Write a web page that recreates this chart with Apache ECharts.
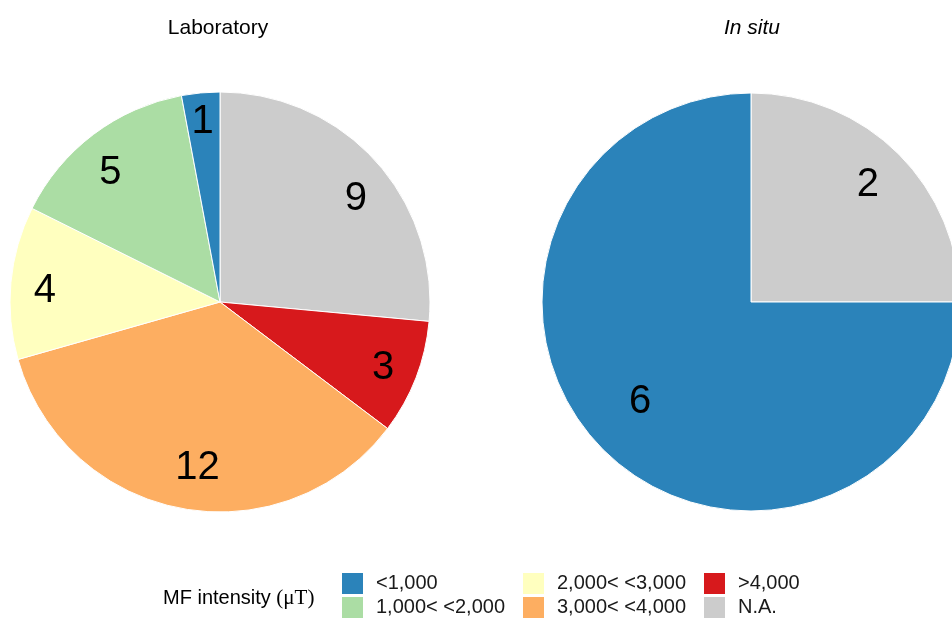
<!DOCTYPE html>
<html>
<head>
<meta charset="utf-8">
<script src="https://cdn.jsdelivr.net/npm/echarts@6/dist/echarts.min.js"></script>
<style>
  html, body { margin: 0; padding: 0; background: #ffffff; }
  #chart { width: 952px; height: 619px; }
</style>
</head>
<body>
<div id="chart"></div>
<script>
// Magnetic-field intensity classes and how many studies fall into each
const categories = ['<1,000', '1,000< <2,000', '2,000< <3,000', '3,000< <4,000', '>4,000', 'N.A.'];
const classColors = ['#2b83ba', '#abdda4', '#ffffbf', '#fdae61', '#d7191c', '#cccccc'];

// Slice order, clockwise from 12 o'clock
const labOrder = ['N.A.', '>4,000', '3,000< <4,000', '2,000< <3,000', '1,000< <2,000', '<1,000'];
const labCounts = [9, 3, 12, 4, 5, 1];

const inSituOrder = ['N.A.', '<1,000'];
const inSituCounts = [2, 6];

const panelTitles = ['Laboratory', 'In situ'];
const legendTitle = 'MF intensity ';
const legendUnit = '(\u03bcT)';

const colorOf = name => classColors[categories.indexOf(name)];
const toData = (names, values) => names.map((n, i) => ({
  name: n, value: values[i], itemStyle: { color: colorOf(n) }
}));

const FONT = '"Liberation Sans", Arial, sans-serif';

// small nudges of the count labels, per series and slice
const labelNudge = {
  1: [[5, 16], [-2, 2], [10, -8], [1, 5], [-3, 12], [-1, -4]],
  3: [[4, -4], [2, -13]]
};

function piePair(names, values, center, radius, labelRing) {
  const data = toData(names, values);
  return [
    {
      type: 'pie', center: center, radius: radius,
      startAngle: 90, clockwise: true,
      data: data,
      label: { show: false }, labelLine: { show: false },
      itemStyle: { borderColor: '#ffffff', borderWidth: 1 },
      emphasis: { disabled: true }, animation: false
    },
    {
      // transparent ring carrying the count labels
      type: 'pie', center: center, radius: labelRing,
      startAngle: 90, clockwise: true, silent: true,
      data: data.map(d => ({ name: d.name, value: d.value, itemStyle: { color: 'rgba(0,0,0,0)' } })),
      label: {
        show: true, position: 'inside', formatter: '{c}',
        fontFamily: FONT, fontSize: 40, color: '#000000'
      },
      labelLine: { show: false },
      labelLayout: function (p) {
        const n = (labelNudge[p.seriesIndex] || [])[p.dataIndex];
        return n ? { dx: n[0], dy: n[1] } : {};
      },
      emphasis: { disabled: true }, animation: false
    }
  ];
}

const legendCols = [[categories[0], categories[1]], [categories[2], categories[3]], [categories[4], categories[5]]];
const legendLefts = [342, 523, 704];

const chart = echarts.init(document.getElementById('chart'), null, { renderer: 'canvas' });
chart.setOption({
  backgroundColor: '#ffffff',
  animation: false,
  title: [
    { text: panelTitles[0], left: 218, top: 18, padding: 0, textAlign: 'center',
      textStyle: { fontFamily: FONT, fontSize: 21, fontWeight: 'normal', color: '#000000' } },
    { text: panelTitles[1], left: 752, top: 18, padding: 0, textAlign: 'center',
      textStyle: { fontFamily: FONT, fontSize: 21, fontWeight: 'normal', fontStyle: 'italic', color: '#000000' } },
    { text: '{a|' + legendTitle + '}{b|' + legendUnit + '}', left: 163, top: 588, padding: 0,
      textStyle: {
        fontWeight: 'normal',
        rich: {
          a: { fontFamily: FONT, fontSize: 20, fontWeight: 'normal', color: '#000000' },
          b: { fontFamily: '"Liberation Serif", "Times New Roman", serif', fontSize: 21, fontWeight: 'normal', color: '#000000' }
        }
      } }
  ],
  legend: legendCols.map((col, i) => ({
    data: col, orient: 'vertical', left: legendLefts[i], top: 573,
    itemWidth: 21, itemHeight: 21, itemGap: 3, icon: 'rect',
    selectedMode: false, padding: 0,
    itemStyle: { borderWidth: 0 },
    textStyle: { fontFamily: FONT, fontSize: 20, color: '#1a1a1a', padding: [0, 0, 0, 8] }
  })),
  series: [
    ...piePair(labOrder, labCounts, [220, 302], 210, [138, 210]),
    ...piePair(inSituOrder, inSituCounts, [751, 302], 209, [104, 209])
  ]
});
</script>
</body>
</html>
